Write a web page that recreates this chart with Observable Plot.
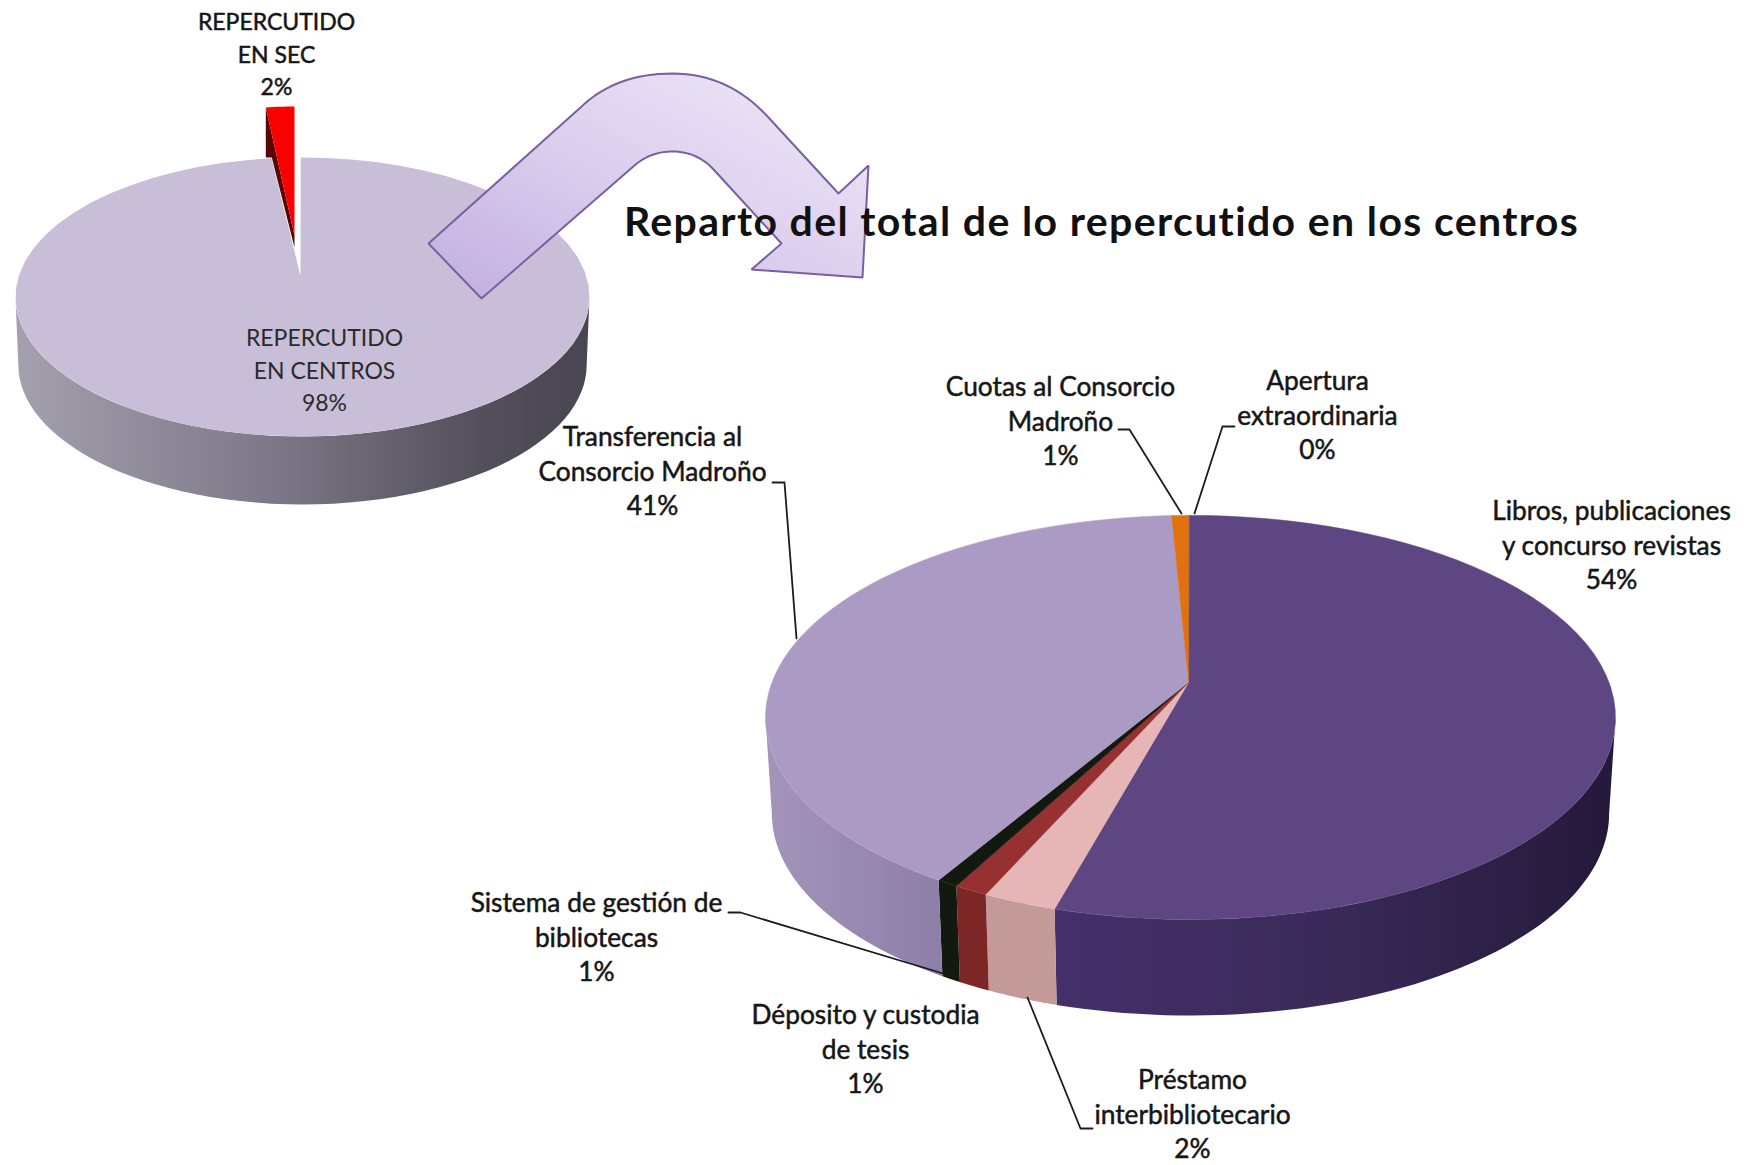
<!DOCTYPE html>
<html><head><meta charset="utf-8">
<style>html,body{margin:0;padding:0;background:#fff}svg{display:block}</style>
<script src="https://cdn.jsdelivr.net/npm/d3@7"></script>
<script src="https://cdn.jsdelivr.net/npm/@observablehq/plot@0.6"></script>
</head><body><div id="chart"></div>
<script>
// ---- data ----
const titleText = "Reparto del total de lo repercutido en los centros";
const firstNames = ["REPERCUTIDO\nEN SEC", "REPERCUTIDO\nEN CENTROS"];
const firstValues = [1.9, 98.1];
const firstLabels = ["2%", "98%"];
const detailNames = ["Apertura\nextraordinaria", "Libros, publicaciones\ny concurso revistas", "Préstamo\ninterbibliotecario", "Déposito y custodia\nde tesis", "Sistema de gestión de\nbibliotecas", "Transferencia al\nConsorcio Madroño", "Cuotas al Consorcio\nMadroño"];
const detailValues = [0.05, 54.4, 2.4, 1.1, 0.7, 40.6, 0.75];
const detailLabels = ["0%", "54%", "2%", "1%", "1%", "41%", "1%"];

// ---- layout & style ----
const W = 1747, H = 1165, FS = 26.3, LH = 34.5;
const detailTop = ["#5e4683", "#5e4683", "#e6b6b6", "#973030", "#121a10", "#ab9bc4", "#e2700e"];
const detailSide = ["url(#gPurple)", "url(#gPurple)", "#c49a98", "#7d2626", "#121a10", "url(#gLilac)", "#e2700e"];
const bigPie = {cx: 1190, ax: 1188, cy: 682, A: 418.6, B: 196, p: 0.173, depth: 96, shrink: 0.985, rot: -0.0056};
const smallPie = {cx: 302, ax: 300, cy: 275, A: 283.6, B: 136.2, p: 0.154, depth: 68, shrink: 0.99, rot: -0.007};
const detailAnchors = [[1317, 413], [1611, 543], [1192, 1112], [865, 1047], [596, 935], [652, 469], [1060, 419]];
const detailLeaders = [
  [[1234, 426], [1222, 426], [1194, 513]],
  null,
  [[1092, 1128], [1080, 1128], [1027, 997]],
  null,
  [[728, 912], [740, 912], [946, 974]],
  [[772, 482], [784, 482], [796, 638]],
  [[1118, 429], [1129, 429], [1181, 513]]
];

// ---- geometry derived from the values ----
function project(P, t) {
  const u = Math.sin(t), v = -Math.cos(t), w = 1 - P.p * v;
  return [P.cx + P.A * u / w, P.cy + P.B * v / w];
}
const arcPts = (P, a, b) => d3.range(0, 61).map(i => project(P, a + (b - a) * i / 60));
function angles(values, start = 0) {
  const total = d3.sum(values); let c = start;
  return values.map(v => { const a = c; c += v / total * 2 * Math.PI; return [a, c]; });
}
const topPoly = (P, a, b) => [[P.ax, P.cy], ...arcPts(P, a, b)];
function sidePoly(P, a, b) {
  const tR = Math.acos(-P.p), tL = 2 * Math.PI - tR;
  const a2 = Math.max(a, tR), b2 = Math.min(b, tL);
  if (b2 <= a2) return null;
  const up = arcPts(P, a2, b2);
  const low = up.map(([x, y]) => [P.cx + (x - P.cx) * P.shrink, y + P.depth]).reverse();
  return [...up, ...low];
}
function quad(p0, c, p1, n = 16) {
  return d3.range(1, n + 1).map(i => { const t = i / n, s = 1 - t;
    return [s * s * p0[0] + 2 * s * t * c[0] + t * t * p1[0], s * s * p0[1] + 2 * s * t * c[1] + t * t * p1[1]]; });
}
const poly = (pts, o) => Plot.line(pts, {x: d => d[0], y: d => d[1], curve: "linear-closed", ...o});

const marks = [];
// small pie: the first value is the pulled-out wedge, ending at the top of the pie
const wedgeSpan = firstValues[0] / d3.sum(firstValues) * 2 * Math.PI;
const [, restAngle] = angles(firstValues, smallPie.rot - wedgeSpan);
marks.push(poly(sidePoly(smallPie, restAngle[0], restAngle[1]), {fill: "url(#gGrey)"}));
marks.push(poly(topPoly(smallPie, restAngle[0], restAngle[1]), {fill: "#c9bed8"}));
// pulled-out wedge
const tip = [294, 235];
const wedgePts = [tip, ...d3.range(0, 9).map(i => { const t = -wedgeSpan + wedgeSpan * i / 8;
  return [tip[0] + 241 * Math.sin(t), tip[1] - 129 * Math.cos(t)]; })];
const outer = wedgePts[1];
marks.push(poly([outer, tip, [tip[0], tip[1] + 12], [outer[0] + 6, outer[1] + 50], [outer[0], outer[1] + 50]], {fill: "#5a0606"}));
marks.push(poly(wedgePts, {fill: "#fb0000"}));

// big pie
const detailAngles = angles(detailValues, bigPie.rot);
detailAngles.forEach(([a, b], i) => {
  const s = sidePoly(bigPie, a, b);
  if (s) marks.push(poly(s, {fill: detailSide[i]}));
});
detailAngles.forEach(([a, b], i) => marks.push(poly(topPoly(bigPie, a, b), {fill: detailTop[i], stroke: detailTop[i], strokeWidth: 0.5})));

// curved arrow
const arrow = [
  [428, 243], [580, 107],
  ...quad([580, 107], [615, 73], [672, 73]), ...quad([672, 73], [728, 73], [768, 117]),
  [838, 193], [868, 165], [862, 277], [751, 269], [781, 243], [714, 170],
  ...quad([714, 170], [697, 151], [672, 151]), ...quad([672, 151], [650, 151], [634, 165]),
  [481, 298]
];
marks.push(poly(arrow, {fill: "url(#gArrow)", stroke: "#7a5fa0", strokeWidth: 2, strokeLinejoin: "miter"}));

// leaders
detailLeaders.forEach(l => { if (l) marks.push(Plot.line(l, {x: d => d[0], y: d => d[1], stroke: "#1c1c1c", strokeWidth: 1.8})); });

// labels
const labelFont = {fontFamily: "Lato, sans-serif", fontSize: FS, lineHeight: LH / FS, fill: "#161616", textAnchor: "middle", stroke: "#161616", strokeWidth: 0.5};
marks.push(Plot.text(detailNames.map((n, i) => ({t: n + "\n" + detailLabels[i], x: detailAnchors[i][0], y: detailAnchors[i][1]})), {x: "x", y: "y", text: "t", ...labelFont}));
marks.push(Plot.text([{t: firstNames[0] + "\n" + firstLabels[0], x: 276, y: 52}], {x: "x", y: "y", text: "t", ...labelFont, fontSize: 23, lineHeight: 32.5 / 23}));
marks.push(Plot.text([{t: firstNames[1] + "\n" + firstLabels[1], x: 324, y: 368}], {x: "x", y: "y", text: "t", fontFamily: "Lato, sans-serif", fontSize: 23, lineHeight: 32.5 / 23, fill: "#2a2a2a", textAnchor: "middle"}));
marks.push(Plot.text([titleText], {x: 1101, y: 222, text: d => d, fontFamily: "Lato, sans-serif", fontWeight: 700, fontSize: 41, fill: "#111", textAnchor: "middle", className: "chart-title"}));

const svg = Plot.plot({
  width: W, height: H, margin: 0,
  x: {domain: [0, W], range: [0, W], axis: null},
  y: {domain: [0, H], range: [0, H], axis: null},
  style: {background: "#fff"},
  marks
});
d3.select(svg).selectAll(".chart-title text").attr("letter-spacing", 1.35);
// gradients for the shaded walls and the arrow
const defs = d3.select(svg).insert("defs", ":first-child");
function grad(id, stops, x1 = 0, y1 = 0, x2 = 1, y2 = 0) {
  const g = defs.append("linearGradient").attr("id", id).attr("x1", x1).attr("y1", y1).attr("x2", x2).attr("y2", y2);
  stops.forEach(([o, c]) => g.append("stop").attr("offset", o).attr("stop-color", c));
}
grad("gGrey", [[0, "#a5a0ae"], [0.45, "#7d7887"], [0.8, "#54505c"], [1, "#4a4650"]]);
grad("gPurple", [[0, "#44306a"], [0.5, "#392a58"], [1, "#241939"]]);
grad("gLilac", [[0, "#a294ba"], [1, "#8e7fa9"]]);
grad("gArrow", [[0, "#bfaee0"], [0.5, "#dccfee"], [1, "#efeaf8"]], 0, 1, 1, 0);
document.getElementById("chart").append(svg);
</script></body></html>
